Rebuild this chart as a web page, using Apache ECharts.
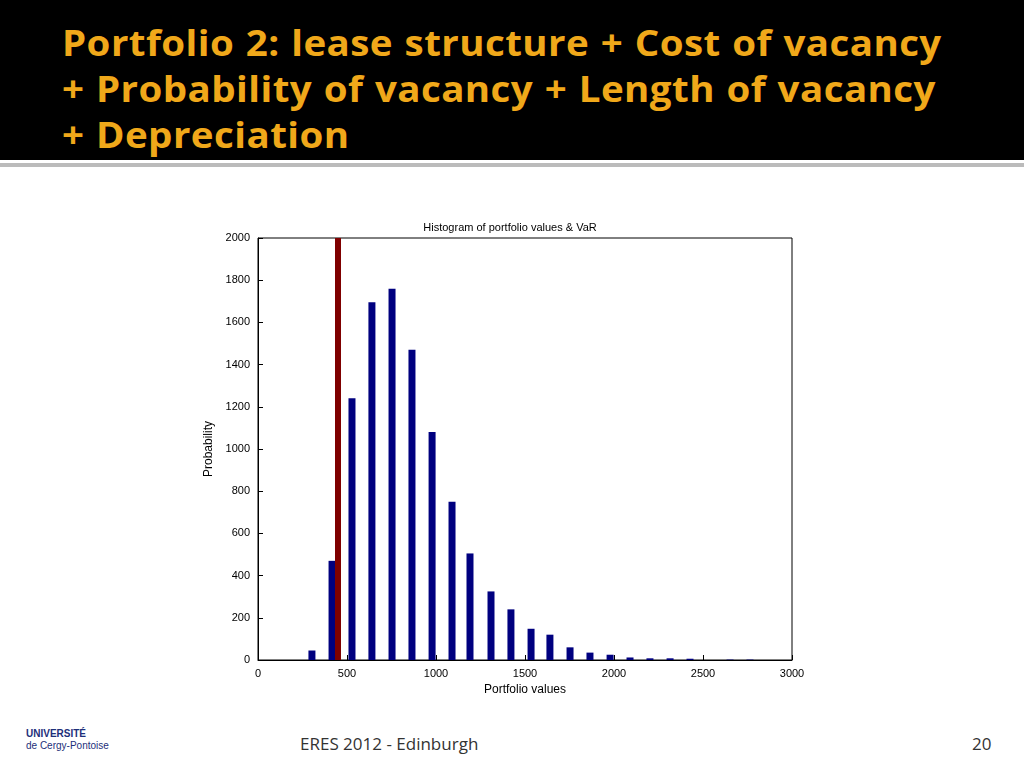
<!DOCTYPE html>
<html>
<head>
<meta charset="utf-8">
<script src="https://cdn.jsdelivr.net/npm/echarts@6/dist/echarts.min.js"></script>
<style>
body { margin:0; width:1024px; height:768px; background:#fff; position:relative; overflow:hidden; font-family:"Open Sans",sans-serif; }
#head { position:absolute; left:0; top:0; width:1024px; height:160px; background:#000; }
#head h1 { margin:0; position:absolute; left:62px; top:20px; color:#f0a81a; font-size:35px; line-height:46px; font-weight:bold; letter-spacing:0.4px; word-spacing:1px; transform:scaleX(1.1); transform-origin:left top; }
#rule { position:absolute; left:0; top:163px; width:1024px; height:4px; background:#bbb; }
#main { position:absolute; left:190px; top:205px; width:640px; height:500px; }
#foot { position:absolute; left:300px; top:732px; font-size:17px; color:#333; }
#page { position:absolute; left:972px; top:732px; font-size:17px; color:#333; }
#logo { position:absolute; left:26px; top:728px; font-family:"Liberation Sans",sans-serif; font-size:10px; color:#1d2f7a; line-height:12px; font-weight:bold; }
</style>
</head>
<body>
<div id="head"><h1>Portfolio 2: lease structure + Cost of vacancy<br>+ Probability of vacancy + Length of vacancy<br>+ Depreciation</h1></div>
<div id="rule"></div>
<div id="main"></div>
<div id="logo">UNIVERSITÉ<br><span style="font-weight:normal">de Cergy-Pontoise</span></div>
<div id="foot">ERES 2012 - Edinburgh</div>
<div id="page">20</div>
<script>
var binCenters = [303, 416, 528, 640, 753, 865, 978, 1090, 1191, 1309, 1421, 1534, 1640, 1753, 1865, 1978, 2090, 2202, 2315, 2427, 2652, 2764];
var counts = [45, 470, 1240, 1695, 1760, 1470, 1080, 750, 505, 325, 240, 148, 120, 60, 35, 25, 12, 8, 8, 6, 2, 2];
var varValue = 449;

var chart = echarts.init(document.getElementById('main'));
var axisCommon = {
    axisLine: { show: true, lineStyle: { color: '#000' } },
    axisTick: { inside: true, length: 5, lineStyle: { color: '#000' } },
    axisLabel: { color: '#000', fontFamily: 'Liberation Sans', fontSize: 11, formatter: function (v) { return String(v); } },
    splitLine: { show: false },
    nameTextStyle: { color: '#000', fontFamily: 'Liberation Sans', fontSize: 12 }
};
chart.setOption({
    animation: false,
    title: { text: 'Histogram of portfolio values & VaR', left: 'center', top: 12,
        textStyle: { fontFamily: 'Liberation Sans', fontSize: 11, fontWeight: 'normal', color: '#000' } },
    grid: { left: 68, right: 38, top: 33, bottom: 45, show: true, borderColor: '#000', borderWidth: 1 },
    xAxis: Object.assign({ type: 'value', min: 0, max: 3000, interval: 500,
        name: 'Portfolio values', nameLocation: 'middle', nameGap: 20 }, axisCommon),
    yAxis: Object.assign({ type: 'value', min: 0, max: 2000, interval: 200,
        name: 'Probability', nameLocation: 'middle', nameGap: 38 }, axisCommon),
    series: [{
        type: 'bar',
        barWidth: 7,
        itemStyle: { color: '#00007f' },
        data: binCenters.map(function (x, i) { return [x, counts[i]]; }),
        markLine: {
            symbol: 'none', silent: true, label: { show: false },
            lineStyle: { color: '#7f0000', width: 6, type: 'solid' },
            data: [{ xAxis: varValue }]
        }
    }]
});
</script>
</body>
</html>
